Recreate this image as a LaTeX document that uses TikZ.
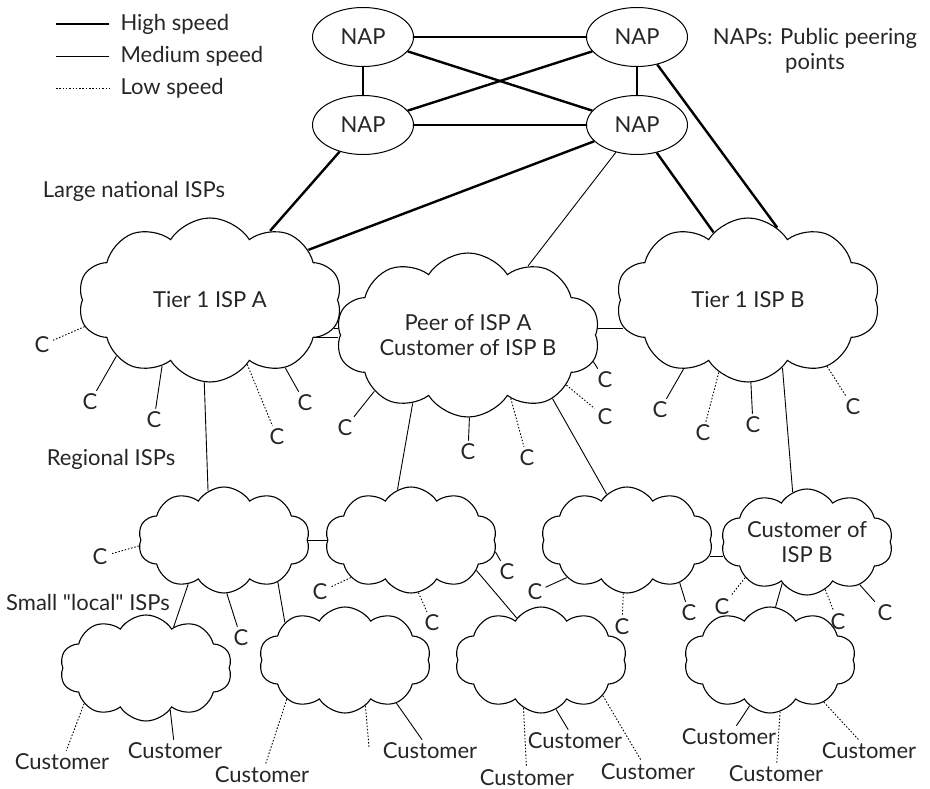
\documentclass[tikz,border=0pt]{standalone}
\usepackage{fontspec}
\setmainfont{Lato}
\usetikzlibrary{shapes.symbols,shapes.geometric}
\begin{document}
\begin{tikzpicture}[x=1pt,y=-1pt,
  every node/.style={font=\fontsize{22}{25.5}\selectfont, text=black!85},
  hs/.style={line width=2.4pt},
  ms/.style={line width=0.9pt},
  ls/.style={line width=0.9pt, dash pattern=on 1.5pt off 1.8pt},
  nap/.style={ellipse, draw, fill=white, line width=1pt, minimum width=101pt, minimum height=59pt, inner sep=0pt},
  isp/.style={cloud, draw, fill=white, line width=1.1pt, cloud puffs=10, cloud puff arc=115, cloud ignores aspect, inner sep=0pt},
  bigisp/.style={isp, minimum width=264pt, minimum height=164pt},
  smallisp/.style={isp, minimum width=172pt, minimum height=106pt},
  lbl/.style={inner sep=3pt},
]
\useasboundingbox (0,0) rectangle (930,789);

% legend
\coordinate (h1) at (56,24); \coordinate (h2) at (109,24);
\coordinate (m1) at (56,56); \coordinate (m2) at (109,56);
\coordinate (l1) at (56,88); \coordinate (l2) at (109,88);
\draw[hs] (h1) -- (h2);
\draw[ms] (m1) -- (m2);
\draw[ls] (l1) -- (l2);
\node[anchor=west] (lh) at (117,24) {High speed};
\node[anchor=west] (lm) at (117,56) {Medium speed};
\node[anchor=west] (ll) at (117,88) {Low speed};

% side labels
\node (lgA) at (134,191) {Large national ISPs};
\node (lgR) at (111,459) {Regional ISPs};
\node (lgS) at (88,602) {Small \textquotedbl local\textquotedbl\ ISPs};
\node[align=center] (napnote) at (815,51) {NAPs: Public peering\\points};

% NAPs
\node[nap] (napTL) at (363,37) {NAP};
\node[nap] (napTR) at (637,37) {NAP};
\node[nap] (napBL) at (363,125) {NAP};
\node[nap] (napBR) at (637,125) {NAP};

% clouds
\node[bigisp] (tierA) at (210,300) {Tier 1 ISP A};
\node[bigisp,align=center] (mid) at (468,335) {Peer of ISP A\\Customer of ISP B};
\node[bigisp] (tierB) at (748,300) {Tier 1 ISP B};
\node[smallisp] (R1) at (224,540) {};
\node[smallisp] (R2) at (411,540) {};
\node[smallisp] (R3) at (627,540) {};
\node[smallisp,align=center] (R4) at (807,542) {Customer of\\ISP B};
\node[smallisp] (L1) at (146,668) {};
\node[smallisp] (L2) at (345,660) {};
\node[smallisp] (L3) at (541,660) {};
\node[smallisp] (L4) at (770,660) {};

% NAP links
\draw[hs] (napTL) -- (napTR);
\draw[hs] (napBL) -- (napBR);
\draw[hs] (napTL) -- (napBL);
\draw[hs] (napTR) -- (napBR);
\draw[hs] (napTL) -- (napBR);
\draw[hs] (napBL) -- (napTR);
\draw[hs] (napTR) -- (tierB.68);
\draw[hs] (napBL) -- (tierA.49);
\draw[hs] (napBR) -- (tierA.27);
\draw[ms] (napBR) -- (mid.49);
\draw[hs] (napBR) -- (tierB.117);

% peer links
\draw[ms] (tierA.347) -- (tierA.347 -| mid.176);
\draw[ms] (tierA.340) -- (tierA.340 -| mid.183);
\draw[ms] (mid.3) -- (mid.3 -| tierB.192);
\draw[ms] (R1.0) -- (R1.0 -| R2.180);
\draw[ms] (R3.349) -- (R3.349 -| R4.189);

% tier to regional
\draw[ms] (tierA.266) -- (R1.108);
\draw[ms] (mid.231) -- (R2.105);
\draw[ms] (mid.323) -- (R3.114);
\draw[ms] (tierB.297) -- (R4.106);
% regional to local
\draw[ms] (R1.231) -- (L1.56);
\draw[ms] (R1.322) -- (L2.148);
\draw[ms] (R2.335) -- (L3.120);
\draw[ms] (R4.239) -- (L4.84);

% C customers
\node[lbl] (cA1) at (42,345) {C};   \draw[ls] (tierA.192) -- (cA1);
\node[lbl] (cA2) at (90,402) {C};   \draw[ms] (tierA.211) -- (cA2);
\node[lbl] (cA3) at (154,420) {C};  \draw[ms] (tierA.234) -- (cA3);
\node[lbl] (cA4) at (277,437) {C};  \draw[ls] (tierA.300) -- (cA4);
\node[lbl] (cA5) at (305,403) {C};  \draw[ms] (tierA.318) -- (cA5);

\node[lbl] (cM1) at (345,428) {C};  \draw[ms] (mid.211) -- (cM1);
\node[lbl] (cM2) at (468,452) {C};  \draw[ms] (mid.271) -- (cM2);
\node[lbl] (cM3) at (527,458) {C};  \draw[ls] (mid.304) -- (cM3);
\node[lbl] (cM4) at (605,380) {C};  \draw[ms] (mid.348) -- (cM4);
\node[lbl] (cM5) at (605,417) {C};  \draw[ls] (mid.333) -- (cM5);

\node[lbl] (cB1) at (660,410) {C};  \draw[ms] (tierB.227) -- (cB1);
\node[lbl] (cB2) at (703,433) {C};  \draw[ls] (tierB.248) -- (cB2);
\node[lbl] (cB3) at (753,425) {C};  \draw[ms] (tierB.272) -- (cB3);
\node[lbl] (cB4) at (853,407) {C};  \draw[ls] (tierB.320) -- (cB4);

\node[lbl] (cR11) at (100,557) {C}; \draw[ls] (R1.184) -- (cR11);
\node[lbl] (cR12) at (241,638) {C}; \draw[ms] (R1.273) -- (cR12);
\node[lbl] (cR21) at (320,592) {C}; \draw[ls] (R2.212) -- (cR21);
\node[lbl] (cR22) at (432,623) {C}; \draw[ls] (R2.278) -- (cR22);
\node[lbl] (cR23) at (507,572) {C}; \draw[ms] (R2.352) -- (cR23);
\node[lbl] (cR31) at (535,592) {C}; \draw[ms] (R3.212) -- (cR31);
\node[lbl] (cR32) at (622,627) {C}; \draw[ls] (R3.266) -- (cR32);
\node[lbl] (cR33) at (689,613) {C}; \draw[ms] (R3.321) -- (cR33);
\node[lbl] (cR41) at (722,607) {C}; \draw[ls] (R4.210) -- (cR41);
\node[lbl] (cR42) at (838,622) {C}; \draw[ls] (R4.291) -- (cR42);
\node[lbl] (cR43) at (885,613) {C}; \draw[ms] (R4.321) -- (cR43);

% end customers
\node[lbl] (u11) at (62,762) {Customer};  \draw[ls] (L1.210) -- (u11);
\node[lbl] (u12) at (175,751) {Customer}; \draw[ms] (L1.300) -- (u12);
\node[lbl] (u21) at (262,775) {Customer}; \draw[ls] (L2.214) -- (u21);
\coordinate (u2x) at (369,747);            \draw[ls] (L2.294) -- (u2x);
\node[lbl] (u22) at (430,751) {Customer}; \draw[ms] (L2.320) -- (u22);
\node[lbl] (u31) at (527,778) {Customer}; \draw[ls] (L3.250) -- (u31);
\node[lbl] (u32) at (575,741) {Customer}; \draw[ms] (L3.287) -- (u32);
\node[lbl] (u33) at (648,772) {Customer}; \draw[ls] (L3.330) -- (u33);
\node[lbl] (u41) at (729,737) {Customer}; \draw[ms] (L4.246) -- (u41);
\node[lbl] (u42) at (776,774) {Customer}; \draw[ls] (L4.281) -- (u42);
\node[lbl] (u43) at (869,751) {Customer}; \draw[ls] (L4.322) -- (u43);
\end{tikzpicture}
\end{document}
